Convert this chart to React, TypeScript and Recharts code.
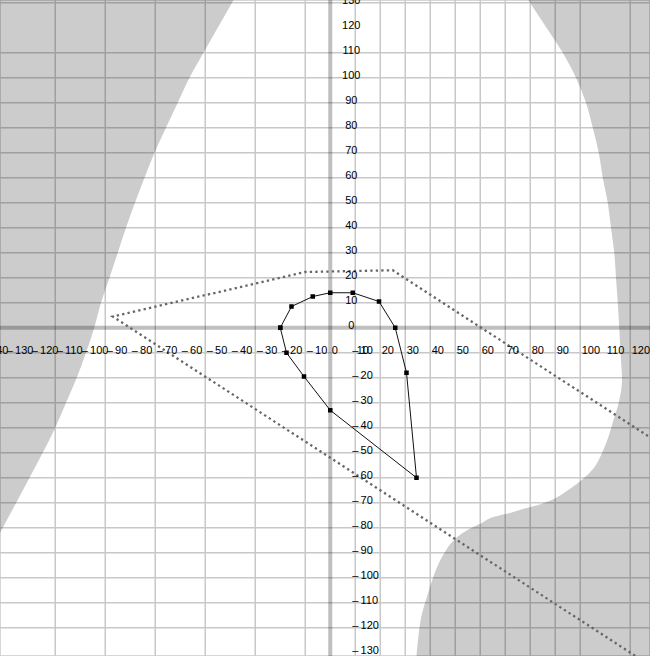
import React from 'react';
import {
  ComposedChart,
  XAxis,
  YAxis,
  CartesianGrid,
  Area,
  Line,
  Scatter,
  ReferenceLine,
} from 'recharts';

// Plot window (data units)
const xDomain: [number, number] = [-132.1, 127.9];
const yDomain: [number, number] = [-131.3, 131.1];

// Grid lines every 10 units (the axes themselves are drawn as wide bands)
const xGrid = [-130, -120, -110, -100, -90, -80, -70, -60, -50, -40, -30, -20, -10, 10, 20, 30, 40, 50, 60, 70, 80, 90, 100, 110, 120];
const yGrid = [-130, -120, -110, -100, -90, -80, -70, -60, -50, -40, -30, -20, -10, 10, 20, 30, 40, 50, 60, 70, 80, 90, 100, 110, 120, 130];

// Axis labels written along the two axes
const xLabelValues = [-140, -130, -120, -110, -100, -90, -80, -70, -60, -50, -40, -30, -20, -10, 0, 10, 20, 30, 40, 50, 60, 70, 80, 90, 100, 110, 120];
const yLabelValues = [-130, -120, -110, -100, -90, -80, -70, -60, -50, -40, -30, -20, -10, 0, 10, 20, 30, 40, 50, 60, 70, 80, 90, 100, 110, 120, 130];

// Left shaded region: [y, x of its right edge]
const leftEdge: [number, number][] = [
  [-86, -134.2], [-80, -131], [-70, -125.6], [-60, -120.3], [-50, -115], [-40, -110],
  [-30, -105.7], [-20, -101.4], [-10, -97.7], [0, -94.4], [10, -91.7], [20, -88.3],
  [30, -85], [40, -81.7], [50, -78.1], [60, -74.3], [70, -70.3], [80, -65.7],
  [90, -61], [100, -56.3], [110, -50.7], [120, -45], [130, -39.3], [135, -36.6],
];

// Right shaded region: [y, x of its left edge]
const rightEdge: [number, number][] = [
  [-135, 34.2], [-128.9, 34.7], [-122.3, 35.4], [-114.3, 36.7], [-107.6, 38.7], [-100.9, 40.8],
  [-95.6, 42.8], [-90.3, 45.5], [-84.9, 49.5], [-80.9, 54.9], [-78.3, 60.2], [-75.6, 65.6],
  [-74.3, 71], [-72.3, 77.7], [-70.5, 84.4], [-68.3, 89.8], [-64.9, 95.2], [-60.9, 100.6],
  [-56.3, 105.3], [-50.3, 108.6], [-43.6, 111.3], [-36.9, 113.3], [-30.3, 115.3], [-20.9, 116.7],
  [-10, 116.1], [0, 115.6], [10, 115], [20, 114.3], [30, 113.6], [40, 112.3],
  [50, 111], [60, 109], [70, 107.4], [80, 105], [90, 102.3], [100, 98.3],
  [110, 93], [120, 86.5], [136, 76],
];

// Dotted boundary: [x, y] vertices
const dottedPath: [number, number][] = [
  [140, -51.7], [25, 23], [-10, 22.3], [-87, 4.5], [125, -133.2],
];

// Closed locus with square markers: [x, y]
const locus: [number, number][] = [
  [-20, 0], [-15.5, 8.5], [-7, 12.5], [0, 14], [9, 14], [19.5, 10.5], [26, 0],
  [30.5, -18], [34.5, -60], [0, -33], [-10.5, -19.5], [-17.5, -10], [-20, 0],
];

const LEFT_BOUND = -140;
const RIGHT_BOUND = 140;

const leftData = leftEdge.map(([y, x]) => ({ y, range: [LEFT_BOUND, x] }));
const rightData = rightEdge.map(([y, x]) => ({ y, range: [x, RIGHT_BOUND] }));
const dottedData = dottedPath.map(([x, y]) => ({ x, y }));
const locusData = locus.map(([x, y]) => ({ x, y }));
const xLabelData = xLabelValues.map((v) => ({ x: v, y: 0 }));
const yLabelData = yLabelValues.map((v) => ({ x: 0, y: v }));

const FONT = '"Liberation Sans", Arial, sans-serif';

const fmt = (v: number) => (v < 0 ? `\u2013\u2009${Math.abs(v)}` : `${v}`);

const XLabel = (props: any) => {
  const { cx, cy, payload } = props;
  return (
    <text
      x={cx + 1.5}
      y={cy + 22}
      textAnchor="start"
      dominantBaseline="central"
      fontFamily={FONT}
      fontSize={11}
      fill="#000"
    >
      {fmt(payload.x)}
    </text>
  );
};

const YLabel = (props: any) => {
  const { cx, cy, payload } = props;
  const neg = payload.y < 0;
  return (
    <text
      x={neg ? cx + 22 : cx + 21}
      y={cy - 3}
      textAnchor={neg ? 'start' : 'middle'}
      dominantBaseline="central"
      fontFamily={FONT}
      fontSize={11}
      fill="#000"
    >
      {fmt(payload.y)}
    </text>
  );
};

const SquareMarker = (props: any) => {
  const { cx, cy } = props;
  return <rect x={cx - 2.25} y={cy - 2.25} width={4.5} height={4.5} fill="#000" />;
};

export default function App() {
  return (
    <div style={{ position: 'fixed', left: 0, top: 0, background: '#fff' }}>
      <ComposedChart
        width={650}
        height={656}
        layout="vertical"
        margin={{ top: 0, right: 0, bottom: 0, left: 0 }}
      >
        <XAxis
          type="number"
          dataKey="x"
          domain={xDomain}
          ticks={xGrid}
          allowDataOverflow
          hide
        />
        <YAxis
          type="number"
          dataKey="y"
          domain={yDomain}
          ticks={yGrid}
          allowDataOverflow
          reversed
          hide
        />
        <CartesianGrid stroke="#c8c8c8" strokeWidth={1.5} />
        <Area
          data={leftData}
          dataKey="range"
          type="monotone"
          stroke="none"
          fill="#000"
          fillOpacity={0.2}
          dot={false}
          activeDot={false}
          isAnimationActive={false}
        />
        <Area
          data={rightData}
          dataKey="range"
          type="monotone"
          stroke="none"
          fill="#000"
          fillOpacity={0.2}
          dot={false}
          activeDot={false}
          isAnimationActive={false}
        />
        <ReferenceLine x={0} stroke="#000" strokeOpacity={0.25} strokeWidth={4} />
        <ReferenceLine y={0} stroke="#000" strokeOpacity={0.25} strokeWidth={4} />
        <Line
          data={dottedData}
          dataKey="x"
          type="linear"
          stroke="#666"
          strokeWidth={2.3}
          strokeDasharray="2.3 3.2"
          dot={false}
          activeDot={false}
          isAnimationActive={false}
        />
        <Line
          data={locusData}
          dataKey="x"
          type="linear"
          stroke="#111"
          strokeWidth={1}
          dot={false}
          activeDot={false}
          isAnimationActive={false}
        />
        <Scatter data={locusData} shape={SquareMarker} isAnimationActive={false} />
        <Scatter data={xLabelData} shape={XLabel} isAnimationActive={false} />
        <Scatter data={yLabelData} shape={YLabel} isAnimationActive={false} />
      </ComposedChart>
    </div>
  );
}
